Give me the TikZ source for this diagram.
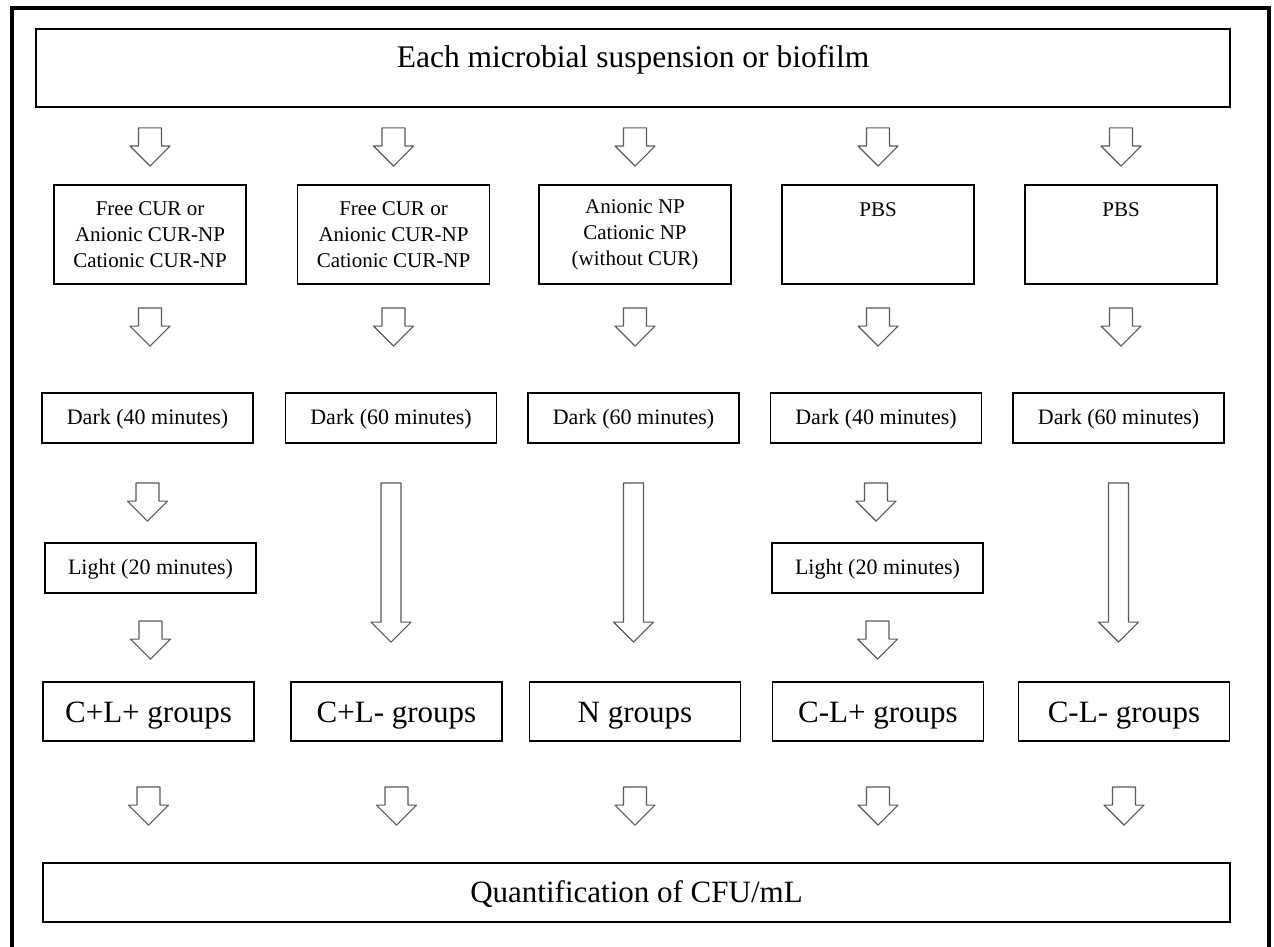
\documentclass[tikz,border=0pt]{standalone}
\usepackage{fontspec}
\setmainfont{Liberation Serif}
\usetikzlibrary{calc}

\begin{document}
\begin{tikzpicture}[x=1pt,y=-1pt,
    box/.style={draw, line width=1.8pt, inner sep=0pt, align=center},
    agent/.style={box, minimum width=192pt, minimum height=99pt, font=\fontsize{21}{26}\selectfont},
    pbs/.style={agent, text height=31pt, text depth=68pt},
    timebox/.style={box, minimum width=211pt, minimum height=50pt, text height=31pt, text depth=19pt, font=\fontsize{22}{26}\selectfont},
    groupbox/.style={box, minimum width=211pt, minimum height=59pt, text height=40pt, text depth=19pt, font=\fontsize{31}{36}\selectfont},
    blk/.style={draw=black!65, line width=1.2pt, fill=white, line join=round,
        to path={let \p1=(\tikztostart), \p2=(\tikztotarget) in
            (\x1-#1,\y1) -- (\x1+#1,\y1) -- (\x1+#1,\y2+20pt) -- (\x1+20pt,\y2+20pt)
            -- (\x1,\y2) -- (\x1-20pt,\y2+20pt) -- (\x1-#1,\y2+20pt) -- cycle}},
    blk/.default=11.5pt]
    \useasboundingbox (0,0) rectangle (1274,947);
    % outer frame, cut at the bottom
    \draw[line width=4.5pt] (12,960) -- (12,8) -- (1269,8) -- (1269,960);

    \node[box, minimum width=1194pt, minimum height=78pt, text height=39pt, text depth=39pt, font=\fontsize{31.5}{36}\selectfont] (top) at (633,68) {Each microbial suspension or biofilm};

    \node[agent] (a1) at (150,234.5) {Free CUR or\\Anionic CUR-NP\\Cationic CUR-NP};
    \node[agent] (a2) at (393.5,234.5) {Free CUR or\\Anionic CUR-NP\\Cationic CUR-NP};
    \node[agent] (a3) at (635,234.5) {Anionic NP\\Cationic NP\\(without CUR)};
    \node[pbs] (a4) at (878,234.5) {PBS};
    \node[pbs] (a5) at (1121,234.5) {PBS};

    \node[timebox] (d1) at (147.5,418) {Dark (40 minutes)};
    \node[timebox] (d2) at (391,418) {Dark (60 minutes)};
    \node[timebox] (d3) at (633.5,418) {Dark (60 minutes)};
    \node[timebox] (d4) at (876,418) {Dark (40 minutes)};
    \node[timebox] (d5) at (1118.5,418) {Dark (60 minutes)};

    \node[timebox] (l1) at (150.5,568) {Light (20 minutes)};
    \node[timebox] (l4) at (877.5,568) {Light (20 minutes)};

    \node[groupbox] (g1) at (148.5,711.5) {C+L+ groups};
    \node[groupbox] (g2) at (396.5,711.5) {C+L- groups};
    \node[groupbox] (g3) at (635,711.5) {N groups};
    \node[groupbox] (g4) at (878,711.5) {C-L+ groups};
    \node[groupbox] (g5) at (1124,711.5) {C-L- groups};

    \node[box, minimum width=1187pt, minimum height=59pt, text height=39pt, text depth=20pt, font=\fontsize{31}{36}\selectfont] (q) at (636.5,892.5) {Quantification of CFU/mL};

    \foreach \i in {1,...,5}{
        \draw[blk] ($(top.south -| a\i)+(0,20)$) to ($(a\i.north)+(0,-18)$);
        \draw[blk] ($(a\i.south)+(0,23)$) to ($(d\i.north)+(0,-46)$);
        \draw[blk] ($(g\i.south)+(0,45)$) to ($(q.north -| g\i)+(0,-37)$);
    };
    \foreach \i in {1,4}{
        \draw[blk] ($(d\i.south)+(0,39)$) to ($(l\i.north)+(0,-21)$);
        \draw[blk] ($(l\i.south)+(0,27)$) to ($(g\i.north)+(0,-22)$);
    };
    \foreach \i in {2,3,5}{
        \draw[blk=10pt] ($(d\i.south)+(0,39)$) to ($(g\i.north)+(0,-39)$);
    };

\end{tikzpicture}
\end{document}
